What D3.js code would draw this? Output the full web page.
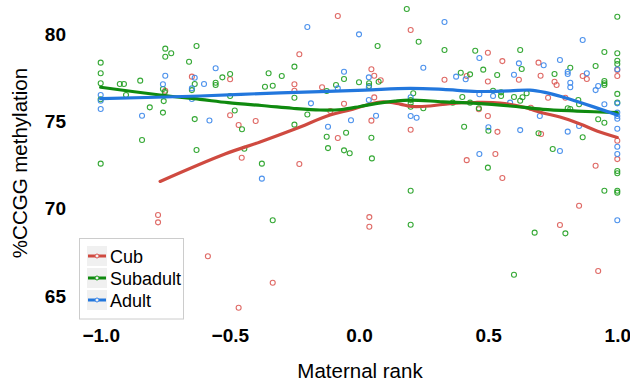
<!DOCTYPE html>
<html>
<head>
<meta charset="utf-8">
<script src="https://cdn.jsdelivr.net/npm/d3@7"></script>
<style>
  html, body { margin: 0; padding: 0; background: #ffffff; }
  svg { display: block; }
  text { font-family: "Liberation Sans", Arial, Helvetica, sans-serif; }
</style>
</head>
<body>
<svg id="chart" width="630" height="383"></svg>
<script>
// ---------------- DATA ----------------
const groups = ["Cub", "Subadult", "Adult"];
const xTicks = [-1.0, -0.5, 0.0, 0.5, 1.0];
const xTickLabels = ["\u22121.0", "\u22120.5", "0.0", "0.5", "1.0"];
const yTicks = [65, 70, 75, 80];
const yTickLabels = ["65", "70", "75", "80"];
const xTitle = "Maternal rank";
const yTitle = "%CCGG methylation";

const cubPoints = [
  [-0.647, 77.56], [-0.750, 76.75], [-0.499, 77.41], [-0.499, 75.35], [-0.466, 74.79],
  [-0.454, 72.92], [-0.400, 75.02], [-0.231, 78.84], [-0.250, 77.12], [-0.250, 76.75],
  [-0.231, 72.56], [-0.082, 81.03], [-0.143, 76.95], [-0.111, 75.59], [-0.082, 74.05],
  [-0.058, 76.01], [0.200, 80.23], [0.048, 77.98], [0.059, 77.61], [0.084, 77.35],
  [0.059, 76.37], [0.048, 75.04], [0.200, 74.52], [0.331, 77.38], [0.499, 78.93],
  [0.499, 77.28], [0.417, 77.60], [0.499, 75.31], [0.464, 75.69], [0.536, 74.40],
  [0.528, 73.13], [0.417, 72.78], [0.555, 78.45], [0.695, 78.36], [0.703, 77.61],
  [0.619, 77.38], [0.757, 77.27], [0.765, 77.08], [0.866, 77.60], [0.882, 77.42],
  [1.000, 77.94], [1.000, 77.60], [0.732, 76.35], [0.799, 76.35], [0.665, 75.78],
  [0.705, 74.28], [1.000, 73.89], [1.000, 72.84], [0.555, 71.76], [0.916, 72.46],
  [0.852, 70.17], [0.778, 69.07], [0.926, 66.43], [0.040, 69.52], [0.040, 68.97],
  [-0.778, 69.64], [-0.778, 69.22], [-0.585, 67.28], [-0.334, 65.76], [-0.466, 64.33]
];

const subadultPoints = [
  [-1.000, 78.36], [-1.000, 77.75], [-1.000, 77.18], [-1.000, 76.26], [-1.000, 72.58],
  [-0.926, 77.14], [-0.910, 77.14], [-0.902, 76.51], [-0.847, 77.33], [-0.840, 73.93],
  [-0.810, 75.80], [-0.750, 79.16], [-0.750, 78.70], [-0.727, 78.90], [-0.759, 76.85],
  [-0.752, 76.68], [-0.756, 76.16], [-0.759, 75.50], [-0.629, 79.31], [-0.658, 78.41],
  [-0.636, 77.14], [-0.647, 76.79], [-0.636, 75.13], [-0.629, 73.36], [-0.555, 77.21],
  [-0.555, 77.08], [-0.529, 77.52], [-0.499, 77.71], [-0.499, 76.45], [-0.481, 75.62],
  [-0.453, 74.55], [-0.444, 73.43], [-0.376, 72.58], [-0.350, 77.75], [-0.364, 76.98],
  [-0.334, 77.04], [-0.299, 77.60], [-0.250, 78.13], [-0.250, 76.35], [-0.250, 74.81],
  [-0.200, 75.39], [-0.125, 76.74], [-0.089, 77.08], [-0.058, 77.42], [0.000, 77.24],
  [-0.125, 74.12], [-0.120, 73.47], [-0.050, 74.35], [-0.058, 73.34], [-0.036, 73.17],
  [0.185, 81.43], [0.231, 79.56], [0.072, 79.31], [0.331, 79.08], [0.450, 79.04],
  [0.481, 77.96], [0.394, 77.78], [0.430, 77.69], [0.535, 77.65], [0.039, 77.18],
  [0.039, 77.02], [0.076, 77.27], [0.210, 76.61], [0.200, 76.22], [0.200, 76.03],
  [0.200, 75.84], [0.249, 75.75], [0.363, 76.07], [0.400, 76.39], [0.430, 76.07],
  [0.464, 75.75], [0.519, 76.75], [0.407, 74.69], [0.501, 74.46], [0.048, 74.06],
  [0.050, 72.88], [0.499, 72.35], [0.200, 71.03], [0.200, 69.08], [-0.334, 69.34],
  [1.000, 80.99], [0.950, 78.97], [1.000, 78.90], [1.000, 78.47], [1.000, 78.28],
  [0.916, 78.17], [0.624, 79.08], [0.630, 78.00], [0.757, 77.71], [0.818, 78.07],
  [0.950, 77.31], [0.950, 77.18], [0.950, 77.08], [0.550, 76.66], [0.550, 76.45],
  [0.649, 76.61], [0.633, 76.38], [0.624, 76.18], [0.600, 76.39], [0.849, 76.22],
  [0.852, 75.98], [0.808, 75.75], [0.818, 75.71], [1.000, 76.57], [1.000, 76.07],
  [0.926, 75.12], [0.950, 74.92], [0.866, 74.09], [0.695, 74.32], [0.750, 73.42],
  [1.000, 72.16], [1.000, 72.03], [0.950, 71.03], [1.000, 71.03], [1.000, 70.92],
  [0.680, 68.63], [0.799, 68.59], [0.600, 66.22]
];

const adultPoints = [
  [-1.000, 76.51], [-1.000, 76.18], [-1.000, 75.71], [-0.840, 75.32], [-0.750, 77.61],
  [-0.759, 77.12], [-0.647, 76.89], [-0.636, 77.50], [-0.647, 76.28], [-0.600, 77.14],
  [-0.579, 75.05], [-0.555, 78.04], [-0.200, 80.40], [-0.186, 76.03], [-0.376, 71.72],
  [0.000, 79.98], [-0.058, 77.84], [-0.082, 76.89], [-0.120, 74.69], [-0.031, 75.06],
  [0.331, 80.69], [0.249, 78.07], [0.466, 78.63], [0.376, 77.56], [0.413, 77.41],
  [0.038, 77.52], [0.038, 76.95], [0.038, 76.22], [0.066, 75.32], [0.200, 76.38],
  [0.200, 75.31], [0.223, 75.21], [0.466, 76.55], [0.519, 76.45], [0.501, 74.66],
  [0.466, 73.13], [0.866, 79.66], [0.619, 78.32], [0.715, 78.21], [0.778, 78.51],
  [0.600, 77.67], [0.808, 77.84], [0.808, 77.71], [0.818, 77.21], [0.818, 76.95],
  [0.882, 77.75], [0.916, 76.79], [0.926, 77.02], [1.000, 77.98], [0.585, 76.07],
  [0.700, 75.31], [0.852, 74.73], [0.950, 75.98], [1.000, 76.03], [1.000, 75.50],
  [1.000, 75.31], [1.000, 75.15], [1.000, 74.58], [1.000, 73.55], [1.000, 73.13],
  [0.624, 74.50], [0.808, 74.41], [0.778, 73.30], [1.000, 69.34]
];

// smoothed (loess) curves
const cubSmooth = [
  [-0.770, 71.56], [-0.519, 73.13], [-0.383, 73.82], [-0.248, 74.56], [-0.112, 75.36],
  [-0.035, 75.65], [0.023, 75.91], [0.093, 76.11], [0.159, 75.99], [0.205, 75.85],
  [0.275, 75.88], [0.352, 76.02], [0.449, 76.08], [0.546, 76.05], [0.635, 75.82],
  [0.712, 75.48], [0.778, 75.25], [0.856, 74.85], [0.921, 74.45], [1.000, 74.08]
];
const subadultSmooth = [
  [-1.000, 76.95], [-0.770, 76.51], [-0.616, 76.26], [-0.507, 76.07], [-0.357, 75.88],
  [-0.259, 75.75], [-0.151, 75.65], [-0.066, 75.68], [0.004, 75.85], [0.070, 76.03],
  [0.139, 76.16], [0.197, 76.22], [0.325, 76.12], [0.457, 76.03], [0.585, 75.88],
  [0.712, 75.69], [0.844, 75.59], [1.000, 75.50]
];
const adultSmooth = [
  [-1.000, 76.30], [-0.616, 76.45], [-0.383, 76.59], [-0.151, 76.70], [0.023, 76.79],
  [0.197, 76.89], [0.325, 76.83], [0.457, 76.71], [0.585, 76.75], [0.662, 76.79],
  [0.720, 76.66], [0.786, 76.41], [0.848, 76.12], [0.914, 75.80], [1.000, 75.36]
];

// ---------------- STYLE ----------------
const lineColors = ["#cf4a40", "#0f8a0f", "#2277dd"];
const pointColors = ["#dc5a55", "#1f9e1f", "#3a86ea"];

// ---------------- CHART ----------------
const svg = d3.select("#chart");
const x = d3.scaleLinear().domain([-1, 1]).range([100.7, 617.3]);
const y = d3.scaleLinear().domain([65, 80]).range([296.05, 34]);

// axes (labels only, no lines)
const xAxis = d3.axisBottom(x).tickValues(xTicks)
  .tickFormat((d, i) => xTickLabels[i]).tickSize(0).tickPadding(0);
const gx = svg.append("g").attr("transform", "translate(0,328)").call(xAxis);
gx.select(".domain").remove();
gx.selectAll("text").attr("font-size", 19).attr("font-weight", "bold")
  .attr("fill", "#000").attr("font-family", "Liberation Sans, Arial, sans-serif");

const yAxis = d3.axisLeft(y).tickValues(yTicks)
  .tickFormat((d, i) => yTickLabels[i]).tickSize(0).tickPadding(0);
const gy = svg.append("g").attr("transform", "translate(66,0)").call(yAxis);
gy.select(".domain").remove();
gy.selectAll("text").attr("font-size", 19).attr("font-weight", "bold")
  .attr("fill", "#000").attr("font-family", "Liberation Sans, Arial, sans-serif");

// titles
svg.append("text").attr("x", 360).attr("y", 378).attr("text-anchor", "middle")
  .attr("font-size", 20.5).attr("fill", "#000").text(xTitle);
svg.append("text").attr("transform", "translate(27,163) rotate(-90)")
  .attr("text-anchor", "middle").attr("font-size", 20.5).attr("fill", "#000").text(yTitle);

// points
const allPoints = [cubPoints, subadultPoints, adultPoints];
const pts = svg.append("g");
allPoints.forEach((arr, gi) => {
  pts.selectAll(null).data(arr).enter().append("circle")
    .attr("cx", d => x(d[0])).attr("cy", d => y(d[1])).attr("r", 2.5)
    .attr("fill", "none").attr("stroke", pointColors[gi]).attr("stroke-width", 1.1)
    .attr("opacity", 0.9);
});

// smooth lines
const line = d3.line().x(d => x(d[0])).y(d => y(d[1])).curve(d3.curveCatmullRom.alpha(0.5));
const smooths = [cubSmooth, subadultSmooth, adultSmooth];
smooths.forEach((arr, gi) => {
  svg.append("path").datum(arr).attr("d", line)
    .attr("fill", "none").attr("stroke", lineColors[gi]).attr("stroke-width", 3.2)
    .attr("stroke-linecap", "round");
});

// legend
const lg = svg.append("g").attr("transform", "translate(79,238)");
lg.append("rect").attr("x", 0.5).attr("y", 0.5).attr("width", 104).attr("height", 80.5)
  .attr("fill", "#ffffff").attr("stroke", "#cccccc").attr("stroke-width", 1);
groups.forEach((g, i) => {
  const row = lg.append("g").attr("transform", `translate(8,${8 + i * 22})`);
  row.append("rect").attr("x", 0).attr("y", 0).attr("width", 20).attr("height", 20)
    .attr("fill", "#f0f0f0");
  row.append("line").attr("x1", 1).attr("x2", 19).attr("y1", 10).attr("y2", 10)
    .attr("stroke", lineColors[i]).attr("stroke-width", 3);
  row.append("circle").attr("cx", 10).attr("cy", 10).attr("r", 2)
    .attr("fill", "#f0f0f0").attr("stroke", pointColors[i]).attr("stroke-width", 1);
  row.append("text").attr("x", 23).attr("y", 17).attr("font-size", 18)
    .attr("fill", "#000").text(g);
});
</script>
</body>
</html>
